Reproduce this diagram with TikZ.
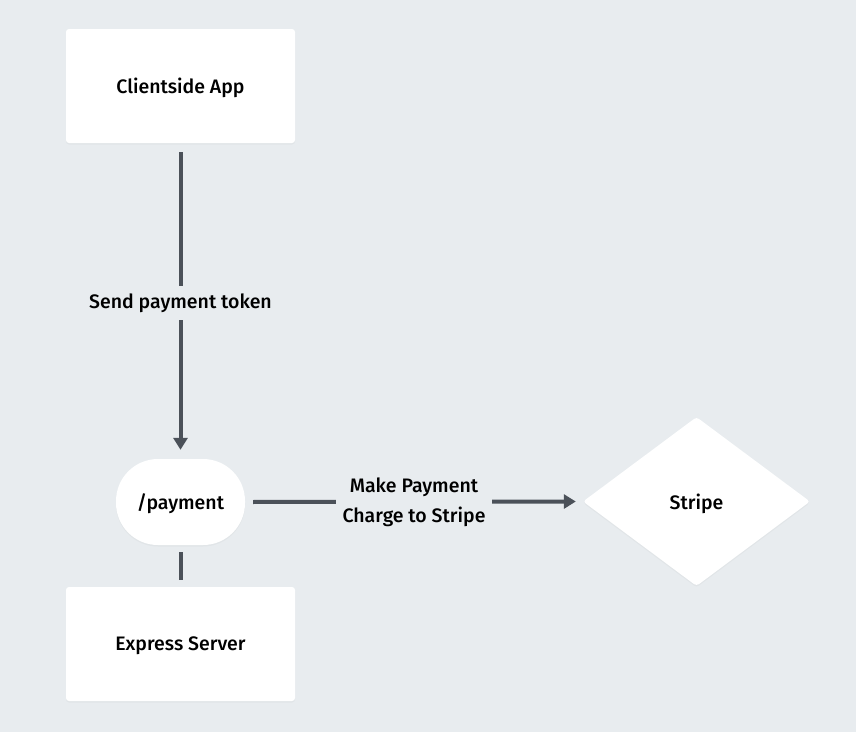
\documentclass[tikz,border=0pt]{standalone}
\usepackage{fontspec}
\setmainfont{Fira Sans}[UprightFont=* Medium]
\usetikzlibrary{shapes.geometric,arrows.meta,shadows}
\definecolor{bgc}{HTML}{E8ECEF}
\definecolor{linec}{HTML}{4B5159}
\begin{document}
\begin{tikzpicture}[x=1pt,y=-1pt,
  font=\fontsize{19.5}{24}\selectfont,
  card/.style={draw=none,fill=white,rounded corners=3pt,minimum width=229pt,minimum height=114pt,inner sep=0pt,text depth=0pt,
    drop shadow={opacity=0.06,shadow xshift=0pt,shadow yshift=-1.5pt}},
  stadium/.style={draw=none,fill=white,rounded corners=42pt,minimum width=129pt,minimum height=86pt,inner sep=0pt,text depth=0pt,
    drop shadow={opacity=0.06,shadow xshift=0pt,shadow yshift=-1.5pt}},
  dia/.style={diamond,draw=none,fill=white,rounded corners=3pt,minimum width=227pt,minimum height=169pt,inner sep=0pt,text depth=0pt,
    drop shadow={opacity=0.06,shadow xshift=0pt,shadow yshift=-1.5pt}},
  conn/.style={draw=linec,line width=4pt,line cap=butt},
  tip/.style={-{Triangle[length=12pt,width=14pt]}},
  lbl/.style={fill=bgc,inner xsep=7pt,inner ysep=8pt,align=center,text=black}
]
\fill[bgc] (0,0) rectangle (856,732);
\useasboundingbox (0,0) rectangle (856,732);

\node[card] (client) at (180.5,86) {Clientside App};
\node[stadium] (pay) at (180.5,502) {/payment};
\node[card] (express) at (180.5,644) {Express Server};
\node[dia] (stripe) at (696.5,501.5) {Stripe};

\draw[conn,tip,shorten <=9pt,shorten >=9pt] (client.south) -- node[lbl,pos=0.5,yshift=-2pt] {Send payment token} (pay.north);
\draw[conn,shorten <=7pt,shorten >=7pt] (pay.south) -- (express.north);
\draw[conn,tip,shorten <=8pt,shorten >=7pt] (pay.east) -- node[lbl,pos=0.5,yshift=-1pt,font=\fontsize{19.5}{30}\selectfont] {Make Payment\\Charge to Stripe} (stripe.west);
\end{tikzpicture}
\end{document}
